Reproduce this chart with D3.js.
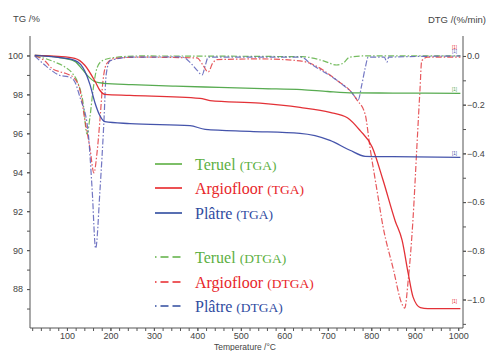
<!DOCTYPE html>
<html>
<head>
<meta charset="utf-8">
<script src="https://cdn.jsdelivr.net/npm/d3@7"></script>
<style>
  body { margin: 0; background: #fff; }
  svg { display: block; }
  .axis text { font-family: "Liberation Sans", Arial, sans-serif; font-size: 9px; fill: #444; }
  .axis path, .axis line { stroke: #555; }
  .legend text { font-family: "Liberation Serif", "Times New Roman", serif; }
</style>
</head>
<body>
<div id="chart"></div>
<script>
// TGA curves, [temperature °C, mass %]
const tgaTeruel = [[26,100],[80,99.9],[118,99.7],[135,99.3],[150,98.9],[165,98.65],[185,98.57],[250,98.5],[350,98.42],[450,98.36],[550,98.3],[640,98.25],[700,98.15],[760,98.08],[850,98.07],[1005,98.05]];
const tgaArgio = [[26,100],[80,99.95],[118,99.85],[141,99.5],[164,98.7],[176,98.2],[187,98.0],[245,97.95],[406,97.8],[429,97.68],[544,97.55],[636,97.33],[705,97.08],[745,96.8],[774,96.15],[802,95.3],[827,93.6],[855,91.5],[871,90.5],[885,88.8],[896,87.6],[913,87.05],[930,87.0],[1005,87.0]];
const tgaPlatre = [[26,100],[80,99.9],[118,99.75],[141,99.2],[153,98.5],[164,97.6],[176,96.9],[187,96.6],[245,96.5],[383,96.4],[418,96.2],[521,96.1],[636,96.0],[705,95.64],[751,95.13],[786,94.82],[850,94.8],[1005,94.77]];

// DTG curves, [temperature °C, %/min]
const dtgTeruel = [[26,0],[49,-0.01],[72,-0.025],[95,-0.045],[112,-0.07],[125,-0.11],[137,-0.19],[146,-0.32],[153,-0.25],[160,-0.14],[169,-0.05],[181,-0.02],[210,-0.006],[268,0],[640,-0.003],[690,-0.02],[720,-0.037],[735,-0.03],[750,-0.005],[780,0],[1005,0]];
const dtgArgio = [[26,0],[49,-0.02],[65,-0.05],[84,-0.065],[102,-0.075],[116,-0.09],[130,-0.14],[141,-0.26],[153,-0.38],[162,-0.48],[169,-0.40],[176,-0.26],[183,-0.10],[192,-0.03],[210,-0.01],[268,-0.005],[399,-0.008],[412,-0.035],[425,-0.066],[435,-0.03],[445,-0.015],[544,-0.012],[636,-0.02],[659,-0.03],[721,-0.1],[755,-0.15],[767,-0.18],[786,-0.24],[797,-0.375],[813,-0.55],[827,-0.70],[850,-0.87],[871,-1.02],[877,-1.035],[885,-0.92],[896,-0.67],[905,-0.37],[912,-0.14],[916,-0.02],[930,-0.005],[1005,-0.005]];
const dtgPlatre = [[26,0],[49,-0.037],[65,-0.06],[84,-0.08],[102,-0.085],[116,-0.1],[130,-0.17],[148,-0.30],[158,-0.55],[166,-0.79],[176,-0.55],[185,-0.27],[190,-0.08],[199,-0.02],[245,-0.005],[365,-0.004],[385,-0.03],[400,-0.06],[411,-0.078],[418,-0.04],[425,-0.005],[640,-0.005],[659,-0.03],[721,-0.1],[755,-0.15],[770,-0.18],[778,-0.12],[786,-0.05],[793,-0.005],[830,-0.005],[836,-0.025],[840,-0.005],[1005,0]];

const xTicks = [100, 200, 300, 400, 500, 600, 700, 800, 900, 1000];
const tgTicks = [88, 90, 92, 94, 96, 98, 100];
const dtgTicks = [0, -0.2, -0.4, -0.6, -0.8, -1.0];

const legendItems = [
  { name: 'Teruel', kind: '(TGA)', color: '#5db043', dash: null },
  { name: 'Argiofloor', kind: '(TGA)', color: '#e8262a', dash: null },
  { name: 'Plâtre', kind: '(TGA)', color: '#2f4b9f', dash: null },
  { name: 'Teruel', kind: '(DTGA)', color: '#5db043', dash: '1.5,4,8,4,8,4' },
  { name: 'Argiofloor', kind: '(DTGA)', color: '#e8262a', dash: '1.5,4,8,4,8,4' },
  { name: 'Plâtre', kind: '(DTGA)', color: '#2f4b9f', dash: '1.5,4,8,4,8,4' }
];

const width = 487, height = 351;
const plot = { left: 30, right: 463, top: 36, bottom: 328 };

const svg = d3.select('#chart').append('svg')
  .attr('width', width)
  .attr('height', height);

const x = d3.scaleLinear().domain([15, 1011]).range([plot.left, plot.right]);
const yL = d3.scaleLinear().domain([86, 101]).range([plot.bottom, plot.top]);
const yR = d3.scaleLinear().domain([-1.117, 0.082]).range([plot.bottom, plot.top]);

// axes
svg.append('g')
  .attr('class', 'axis')
  .attr('transform', `translate(0,${plot.bottom})`)
  .call(d3.axisBottom(x).tickValues(d3.range(20, 1001, 20)).tickSize(3).tickFormat(''))
  .call(g => g.select('.domain').attr('d', `M${plot.left},0H${plot.right}`));
svg.append('g')
  .attr('class', 'axis')
  .attr('transform', `translate(0,${plot.bottom})`)
  .call(d3.axisBottom(x).tickValues(xTicks).tickSize(3).tickPadding(2).tickFormat(d3.format('d')))
  .call(g => g.select('.domain').remove());

svg.append('g')
  .attr('class', 'axis')
  .attr('transform', `translate(${plot.left},0)`)
  .call(d3.axisLeft(yL).tickValues(d3.range(87, 101, 1)).tickSize(3).tickFormat(''))
  .call(g => g.select('.domain').attr('d', `M0,${plot.top}V${plot.bottom}`));
svg.append('g')
  .attr('class', 'axis')
  .attr('transform', `translate(${plot.left},0)`)
  .call(d3.axisLeft(yL).tickValues(tgTicks).tickSize(3).tickPadding(4))
  .call(g => g.select('.domain').remove());

svg.append('g')
  .attr('class', 'axis')
  .attr('transform', `translate(${plot.right},0)`)
  .call(d3.axisRight(yR).tickValues(d3.range(-11, 1).map(d => d / 10)).tickSize(3).tickFormat(''))
  .call(g => g.select('.domain').attr('d', `M0,${plot.top}V${plot.bottom}`));
svg.append('g')
  .attr('class', 'axis')
  .attr('transform', `translate(${plot.right},0)`)
  .call(d3.axisRight(yR).tickValues(dtgTicks).tickSize(3).tickPadding(1).tickFormat(d3.format('.1f')))
  .call(g => g.select('.domain').remove());

// axis titles
const titleFont = '"Liberation Sans", Arial, sans-serif';
svg.append('text').attr('x', 13).attr('y', 22)
  .attr('font-family', titleFont).attr('font-size', 9.5).attr('fill', '#444').text('TG /%');
svg.append('text').attr('x', 486).attr('y', 23).attr('text-anchor', 'end')
  .attr('font-family', titleFont).attr('font-size', 9.5).attr('fill', '#444').text('DTG /(%/min)');
svg.append('text').attr('x', 245).attr('y', 349.5).attr('text-anchor', 'middle')
  .attr('font-family', titleFont).attr('font-size', 8.5).attr('fill', '#444').text('Temperature /°C');

// curves
const lineL = d3.line().curve(d3.curveMonotoneX).x(d => x(d[0])).y(d => yL(d[1]));
const lineR = d3.line().curve(d3.curveMonotoneX).x(d => x(d[0])).y(d => yR(d[1]));

const curves = [
  { data: dtgTeruel, line: lineR, color: '#5db043', dash: true },
  { data: dtgArgio, line: lineR, color: '#e23b3f', dash: true },
  { data: dtgPlatre, line: lineR, color: '#5a5fb8', dash: true },
  { data: tgaTeruel, line: lineL, color: '#4fa648', dash: false },
  { data: tgaArgio, line: lineL, color: '#e2262c', dash: false },
  { data: tgaPlatre, line: lineL, color: '#3b4ba6', dash: false }
];

svg.append('g').selectAll('path')
  .data(curves)
  .join('path')
  .attr('d', d => d.line(d.data))
  .attr('fill', 'none')
  .attr('stroke', d => d.color)
  .attr('stroke-width', d => d.dash ? 1.2 : 1.3)
  .attr('stroke-opacity', d => d.dash ? 0.85 : 0.95)
  .attr('stroke-dasharray', d => d.dash ? '6,2,1.5,2' : null);

// small end markers
const endMarks = [
  { y: yR(0) - 7, color: '#e8262a' },
  { y: yR(0) - 3, color: '#5a5fb8' },
  { y: yL(98.07) - 2, color: '#4fa648' },
  { y: yL(94.77) - 2, color: '#3b4ba6' },
  { y: yL(87.0) - 6, color: '#e8262a' }
];
svg.append('g').selectAll('text')
  .data(endMarks)
  .join('text')
  .attr('x', 452)
  .attr('y', d => d.y)
  .attr('font-family', titleFont)
  .attr('font-size', 4.5)
  .attr('fill', d => d.color)
  .text('[1]');

// legend
const legendY = [164, 188, 213, 257, 282, 306];
const legend = svg.append('g').attr('class', 'legend');
const li = legend.selectAll('g')
  .data(legendItems)
  .join('g')
  .attr('transform', (d, i) => `translate(0,${legendY[i]})`);
li.append('line')
  .attr('x1', 155).attr('x2', 182)
  .attr('stroke', d => d.color)
  .attr('stroke-width', 1.6)
  .attr('stroke-dasharray', d => d.dash);
const lt = li.append('text')
  .attr('x', 195)
  .attr('y', 6)
  .attr('fill', d => d.color);
lt.append('tspan').attr('font-size', 16).text(d => d.name + ' ');
lt.append('tspan').attr('font-size', 13.5).text(d => d.kind);
</script>
</body>
</html>
